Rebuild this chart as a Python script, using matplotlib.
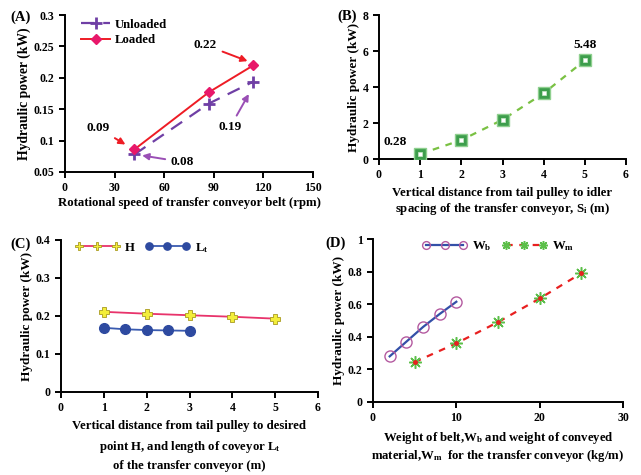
import matplotlib
matplotlib.use("Agg")
import matplotlib.pyplot as plt

plt.rcParams['font.family'] = ['Liberation Serif', 'DejaVu Serif']
plt.rcParams['font.weight'] = 'bold'
plt.rcParams['axes.labelweight'] = 'bold'
plt.rcParams['mathtext.fontset'] = 'custom'
plt.rcParams['mathtext.rm'] = 'Liberation Serif:bold'
plt.rcParams['mathtext.bf'] = 'Liberation Serif:bold'
plt.rcParams['mathtext.it'] = 'Liberation Serif:bold'

# (A) rotational speed
speed = [42, 87, 114]
unloaded = [0.078, 0.159, 0.194]
loaded = [0.086, 0.177, 0.220]

# (B) idler spacing
spacing = [1, 2, 3, 4, 5]
power_b = [0.28, 1.05, 2.18, 3.65, 5.48]

# (C) height H and length Lt
h_x = [1, 2, 3, 4, 5]
h_y = [0.211, 0.206, 0.202, 0.198, 0.193]
lt_x = [1, 1.5, 2, 2.5, 3]
lt_y = [0.169, 0.165, 0.163, 0.162, 0.161]

# (D) belt weight and material weight
wb_x = [2, 4, 6, 8, 10]
wb_y = [0.28, 0.37, 0.46, 0.54, 0.615]
wm_x = [5, 10, 15, 20, 25]
wm_y = [0.245, 0.36, 0.49, 0.635, 0.79]

fs = 8.5
lfs = 9.2
W, H = 641, 475

fig = plt.figure(figsize=(6.41, 4.75), dpi=100)


def make_ax(l, r, t, b):
    ax = fig.add_axes([l / W, 1 - b / H, (r - l) / W, (b - t) / H])
    for s in ['top', 'right']:
        ax.spines[s].set_visible(False)
    for s in ['left', 'bottom']:
        ax.spines[s].set_linewidth(1.4)
    ax.tick_params(direction='out', length=4, width=1.4, labelsize=fs)
    return ax


# ---- A ----
axA = make_ax(65, 313, 15, 172)
axA.plot(speed, unloaded, '--', color='#6f3fa5', lw=1.6, dashes=(6, 4),
         marker='+', ms=9, mew=2, label='Unloaded')
axA.plot(speed, loaded, '-', color='#ee1c25', lw=1.4,
         marker='D', ms=5, mfc='#e8186a', mec='#e8186a', label='Loaded')
axA.set_xlim(0, 150)
axA.set_ylim(0.05, 0.3)
axA.set_xticks([0, 30, 60, 90, 120, 150])
axA.set_yticks([0.05, 0.1, 0.15, 0.2, 0.25, 0.3])
axA.set_yticklabels(['0.05', '0.1', '0.15', '0.2', '0.25', '0.3'])
axA.set_xlabel('Rotational speed of transfer conveyor belt (rpm)', fontsize=lfs, labelpad=2)
axA.set_ylabel('Hydraulic power (kW)', fontsize=lfs + 0.6, labelpad=2)
axA.legend(loc='upper left', bbox_to_anchor=(0.02, 1.05), frameon=False,
           fontsize=lfs, handlelength=2.2, handletextpad=0.4, labelspacing=0.3)
ann = dict(fontsize=9.5, fontweight='bold', ha='center', va='center')
axA.annotate('0.22', xy=(112, 0.225), xytext=(85, 0.252),
             arrowprops=dict(arrowstyle='-|>', color='#ee1c25', lw=1.4), **ann)
axA.annotate('0.09', xy=(38, 0.0915), xytext=(20, 0.12),
             arrowprops=dict(arrowstyle='-|>', color='#ee1c25', lw=1.4), **ann)
axA.annotate('0.08', xy=(45, 0.077), xytext=(71, 0.066),
             arrowprops=dict(arrowstyle='-|>', color='#9a4fb5', lw=1.4), **ann)
axA.annotate('0.19', xy=(112, 0.178), xytext=(100, 0.122),
             arrowprops=dict(arrowstyle='-|>', color='#9a4fb5', lw=1.4), **ann)

# ---- B ----
axB = make_ax(379, 626, 15, 159)
axB.plot(spacing, power_b, '--', color='#7ac143', lw=1.6, dashes=(3, 3), zorder=2)
axB.plot(spacing, power_b, 's', ms=8, mfc='#3d9e4c', mec='#8fd08f', mew=1, zorder=3)
axB.plot(spacing, power_b, 's', ms=3, mfc='white', mec='#c8e8c8', mew=0.5, zorder=4)
axB.set_xlim(0, 6)
axB.set_ylim(0, 8)
axB.set_xticks(range(0, 7))
axB.set_yticks([0, 2, 4, 6, 8])
axB.set_xlabel('Vertical distance from tail pulley to idler\n'
               'spacing of the transfer conveyor, S$_\\mathregular{i}$ (m)',
               fontsize=lfs, labelpad=4)
axB.set_ylabel('Hydraulic power (kW)', fontsize=lfs + 0.3, labelpad=2)
axB.text(0.4, 0.95, '0.28', **ann)
axB.text(5.0, 6.35, '5.48', **ann)

# ---- C ----
axC = make_ax(61, 318, 240, 392)
axC.plot(h_x, h_y, '-', color='#e8336b', lw=1.3, marker='P', ms=7.5,
         mfc='#f3ee3a', mec='#a89a20', mew=0.6, label='H')
axC.plot(lt_x, lt_y, '-', color='#3a5bb0', lw=1.3, marker='o', ms=7,
         mfc='#2e4aa0', mec='#2e4aa0', label='L$_\\mathregular{t}$')
axC.set_xlim(0, 6)
axC.set_ylim(0, 0.4)
axC.set_xticks(range(0, 7))
axC.set_yticks([0, 0.1, 0.2, 0.3, 0.4])
axC.set_yticklabels(['0', '0.1', '0.2', '0.3', '0.4'])
axC.set_xlabel('Vertical distance from tail pulley to desired\n'
               'point H, and length of coveyor L$_\\mathregular{t}$\n'
               'of the transfer conveyor (m)', fontsize=lfs, labelpad=4, linespacing=1.6)
axC.set_ylabel('Hydraulic power (kW)', fontsize=lfs + 0.3, labelpad=2)
axC.legend(loc='upper left', bbox_to_anchor=(0.01, 1.07), frameon=False, ncol=2,
           numpoints=3, fontsize=lfs, handlelength=3.5, handletextpad=0.4,
           columnspacing=0.8, markerscale=0.75)

# ---- D ----
axD = make_ax(373, 623, 239, 402)
axD.plot(wb_x, wb_y, '-', color='#3450a8', lw=1.6, marker='o', ms=8,
         mfc='none', mec='#b45aa0', mew=1, label='W$_\\mathregular{b}$')
axD.plot(wm_x, wm_y, '--', color='#e82020', lw=1.6, dashes=(3, 3), marker=(8, 2, 0),
         ms=9, mec='#5cbf4a', mew=1.1, label='W$_\\mathregular{m}$')
axD.plot(wm_x, wm_y, 'o', ms=2.5, color='#e82020', zorder=4)
axD.set_xlim(0, 30)
axD.set_ylim(0, 1)
axD.set_xticks([0, 10, 20, 30])
axD.set_yticks([0, 0.2, 0.4, 0.6, 0.8, 1])
axD.set_yticklabels(['0', '0.2', '0.4', '0.6', '0.8', '1'])
axD.set_xlabel('Weight of belt,W$_\\mathregular{b}$ and weight of conveyed\n'
               'material,W$_\\mathregular{m}$  for the transfer conveyor (kg/m)',
               fontsize=lfs, labelpad=4)
axD.set_ylabel('Hydraulic power (kW)', fontsize=lfs + 0.3, labelpad=2)
axD.legend(loc='upper center', bbox_to_anchor=(0.5, 1.07), frameon=False, ncol=2,
           numpoints=3, fontsize=lfs, handlelength=3.5, handletextpad=0.4,
           columnspacing=0.8, markerscale=0.7)

# panel letters
fig.text(21 / W, 1 - 17 / H, '(A)', fontsize=10.5, fontweight='bold', ha='center', va='center')
fig.text(347 / W, 1 - 16 / H, '(B)', fontsize=10.5, fontweight='bold', ha='center', va='center')
fig.text(21 / W, 1 - 244 / H, '(C)', fontsize=10.5, fontweight='bold', ha='center', va='center')
fig.text(336 / W, 1 - 243 / H, '(D)', fontsize=10.5, fontweight='bold', ha='center', va='center')

fig.savefig('out.png', dpi=100)
